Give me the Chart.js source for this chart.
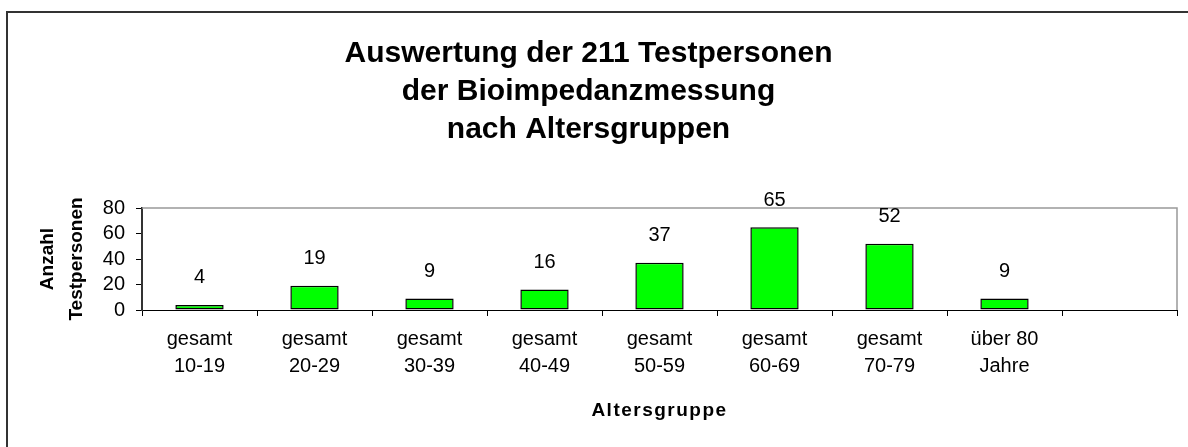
<!DOCTYPE html>
<html lang="de">
<head>
<meta charset="utf-8">
<title>Auswertung der 211 Testpersonen</title>
<script src="https://cdn.jsdelivr.net/npm/chart.js@4/dist/chart.umd.min.js"></script>
<style>
  html, body { margin: 0; padding: 0; background: #fff; overflow: hidden; }
  #wrap { position: relative; width: 1188px; height: 447px; }
  #chart { position: absolute; left: 0; top: 0; }
  /* outer chart frame (only the left and top edges fall inside the page) */
  #frame { position: absolute; left: 6px; top: 11px; width: 1200px; height: 460px;
           border: 2px solid #333; pointer-events: none; }
</style>
</head>
<body>
<div id="wrap">
  <canvas id="chart" width="1188" height="447"></canvas>
  <div id="frame"></div>
</div>
<script>
// Age groups (the last slot is an empty category)
const categories = [
  ['gesamt', '10-19'],
  ['gesamt', '20-29'],
  ['gesamt', '30-39'],
  ['gesamt', '40-49'],
  ['gesamt', '50-59'],
  ['gesamt', '60-69'],
  ['gesamt', '70-79'],
  ['über 80', 'Jahre'],
  ''
];
// Number of test persons per age group
const persons = [4, 19, 9, 16, 37, 65, 52, 9, null];
// Value axis ticks
const yTicks = [0, 20, 40, 60, 80];

const titleLines = ['Auswertung der 211 Testpersonen', 'der Bioimpedanzmessung', 'nach Altersgruppen'];
const xTitle = 'Altersgruppe';
const yTitle = ['Anzahl', 'Testpersonen'];

const FONT = "'Liberation Sans', Arial, Helvetica, sans-serif";

// gray frame along the top and right of the plot area
const plotFrame = {
  id: 'plotFrame',
  beforeDatasetsDraw(chart) {
    const { ctx, chartArea: a } = chart;
    ctx.save();
    ctx.strokeStyle = '#999';
    ctx.lineWidth = 1.5;
    ctx.beginPath();
    ctx.moveTo(a.left, a.top);
    ctx.lineTo(a.right, a.top);
    ctx.lineTo(a.right, a.bottom);
    ctx.stroke();
    ctx.restore();
  }
};

// value printed above every bar
const valueLabels = {
  id: 'valueLabels',
  afterDatasetsDraw(chart) {
    const { ctx } = chart;
    const meta = chart.getDatasetMeta(0);
    const data = chart.data.datasets[0].data;
    ctx.save();
    ctx.font = '20px ' + FONT;
    ctx.fillStyle = '#000';
    ctx.textAlign = 'center';
    ctx.textBaseline = 'middle';
    meta.data.forEach((bar, i) => {
      const v = data[i];
      if (v === null || v === undefined) return;
      ctx.fillText(String(v), bar.x, bar.y - 27);
    });
    ctx.restore();
  }
};

new Chart(document.getElementById('chart'), {
  type: 'bar',
  data: {
    labels: categories,
    datasets: [{
      data: persons,
      backgroundColor: '#00ff00',
      borderColor: '#000',
      borderWidth: 1.5,
      borderSkipped: false,
      categoryPercentage: 1,
      barPercentage: 0.42
    }]
  },
  options: {
    responsive: false,
    animation: false,
    devicePixelRatio: 1,
    layout: { padding: { left: 0, right: 11, top: 0, bottom: 0 } },
    plugins: {
      legend: { display: false },
      tooltip: { enabled: false },
      title: {
        display: true,
        text: titleLines,
        color: '#000',
        font: { family: FONT, size: 30, weight: 'bold', lineHeight: 1.2667 },
        padding: { top: 35, bottom: 59 }
      }
    },
    scales: {
      x: {
        offset: true,
        grid: { offset: true, drawOnChartArea: false, drawTicks: true, tickLength: 6, color: '#000' },
        border: { display: true, color: '#000', width: 1 },
        ticks: {
          color: '#000',
          padding: 10,
          maxRotation: 0,
          autoSkip: false,
          font: { family: FONT, size: 20, lineHeight: 1.35 }
        },
        title: {
          display: true,
          text: xTitle,
          color: '#000',
          font: { family: FONT, size: 19, weight: 'bold', lineHeight: 1.2 },
          padding: { top: 0, bottom: 25 }
        },
        afterFit(scale) { scale.height = 137; },
        afterUpdate(scale) {
          if (scale._spacedTitle) return;
          const draw = scale.drawTitle;
          scale.drawTitle = function () {
            const c = this.ctx;
            c.save();
            c.letterSpacing = '1.5px';
            draw.call(this);
            c.restore();
          };
          scale._spacedTitle = true;
        }
      },
      y: {
        min: 0,
        max: 80,
        afterBuildTicks(scale) { scale.ticks = yTicks.map(v => ({ value: v })); },
        grid: { drawOnChartArea: false, drawTicks: true, tickLength: 6, color: '#000' },
        border: { display: true, color: '#333', width: 2 },
        ticks: {
          color: '#000',
          padding: 11,
          autoSkip: false,
          font: { family: FONT, size: 20 }
        },
        title: {
          display: true,
          text: yTitle,
          color: '#000',
          font: { family: FONT, size: 19, weight: 'bold', lineHeight: 1.55 },
          padding: { top: 33, bottom: 0 }
        },
        afterFit(scale) { scale.width = 142; }
      }
    }
  },
  plugins: [plotFrame, valueLabels]
});
</script>
</body>
</html>
